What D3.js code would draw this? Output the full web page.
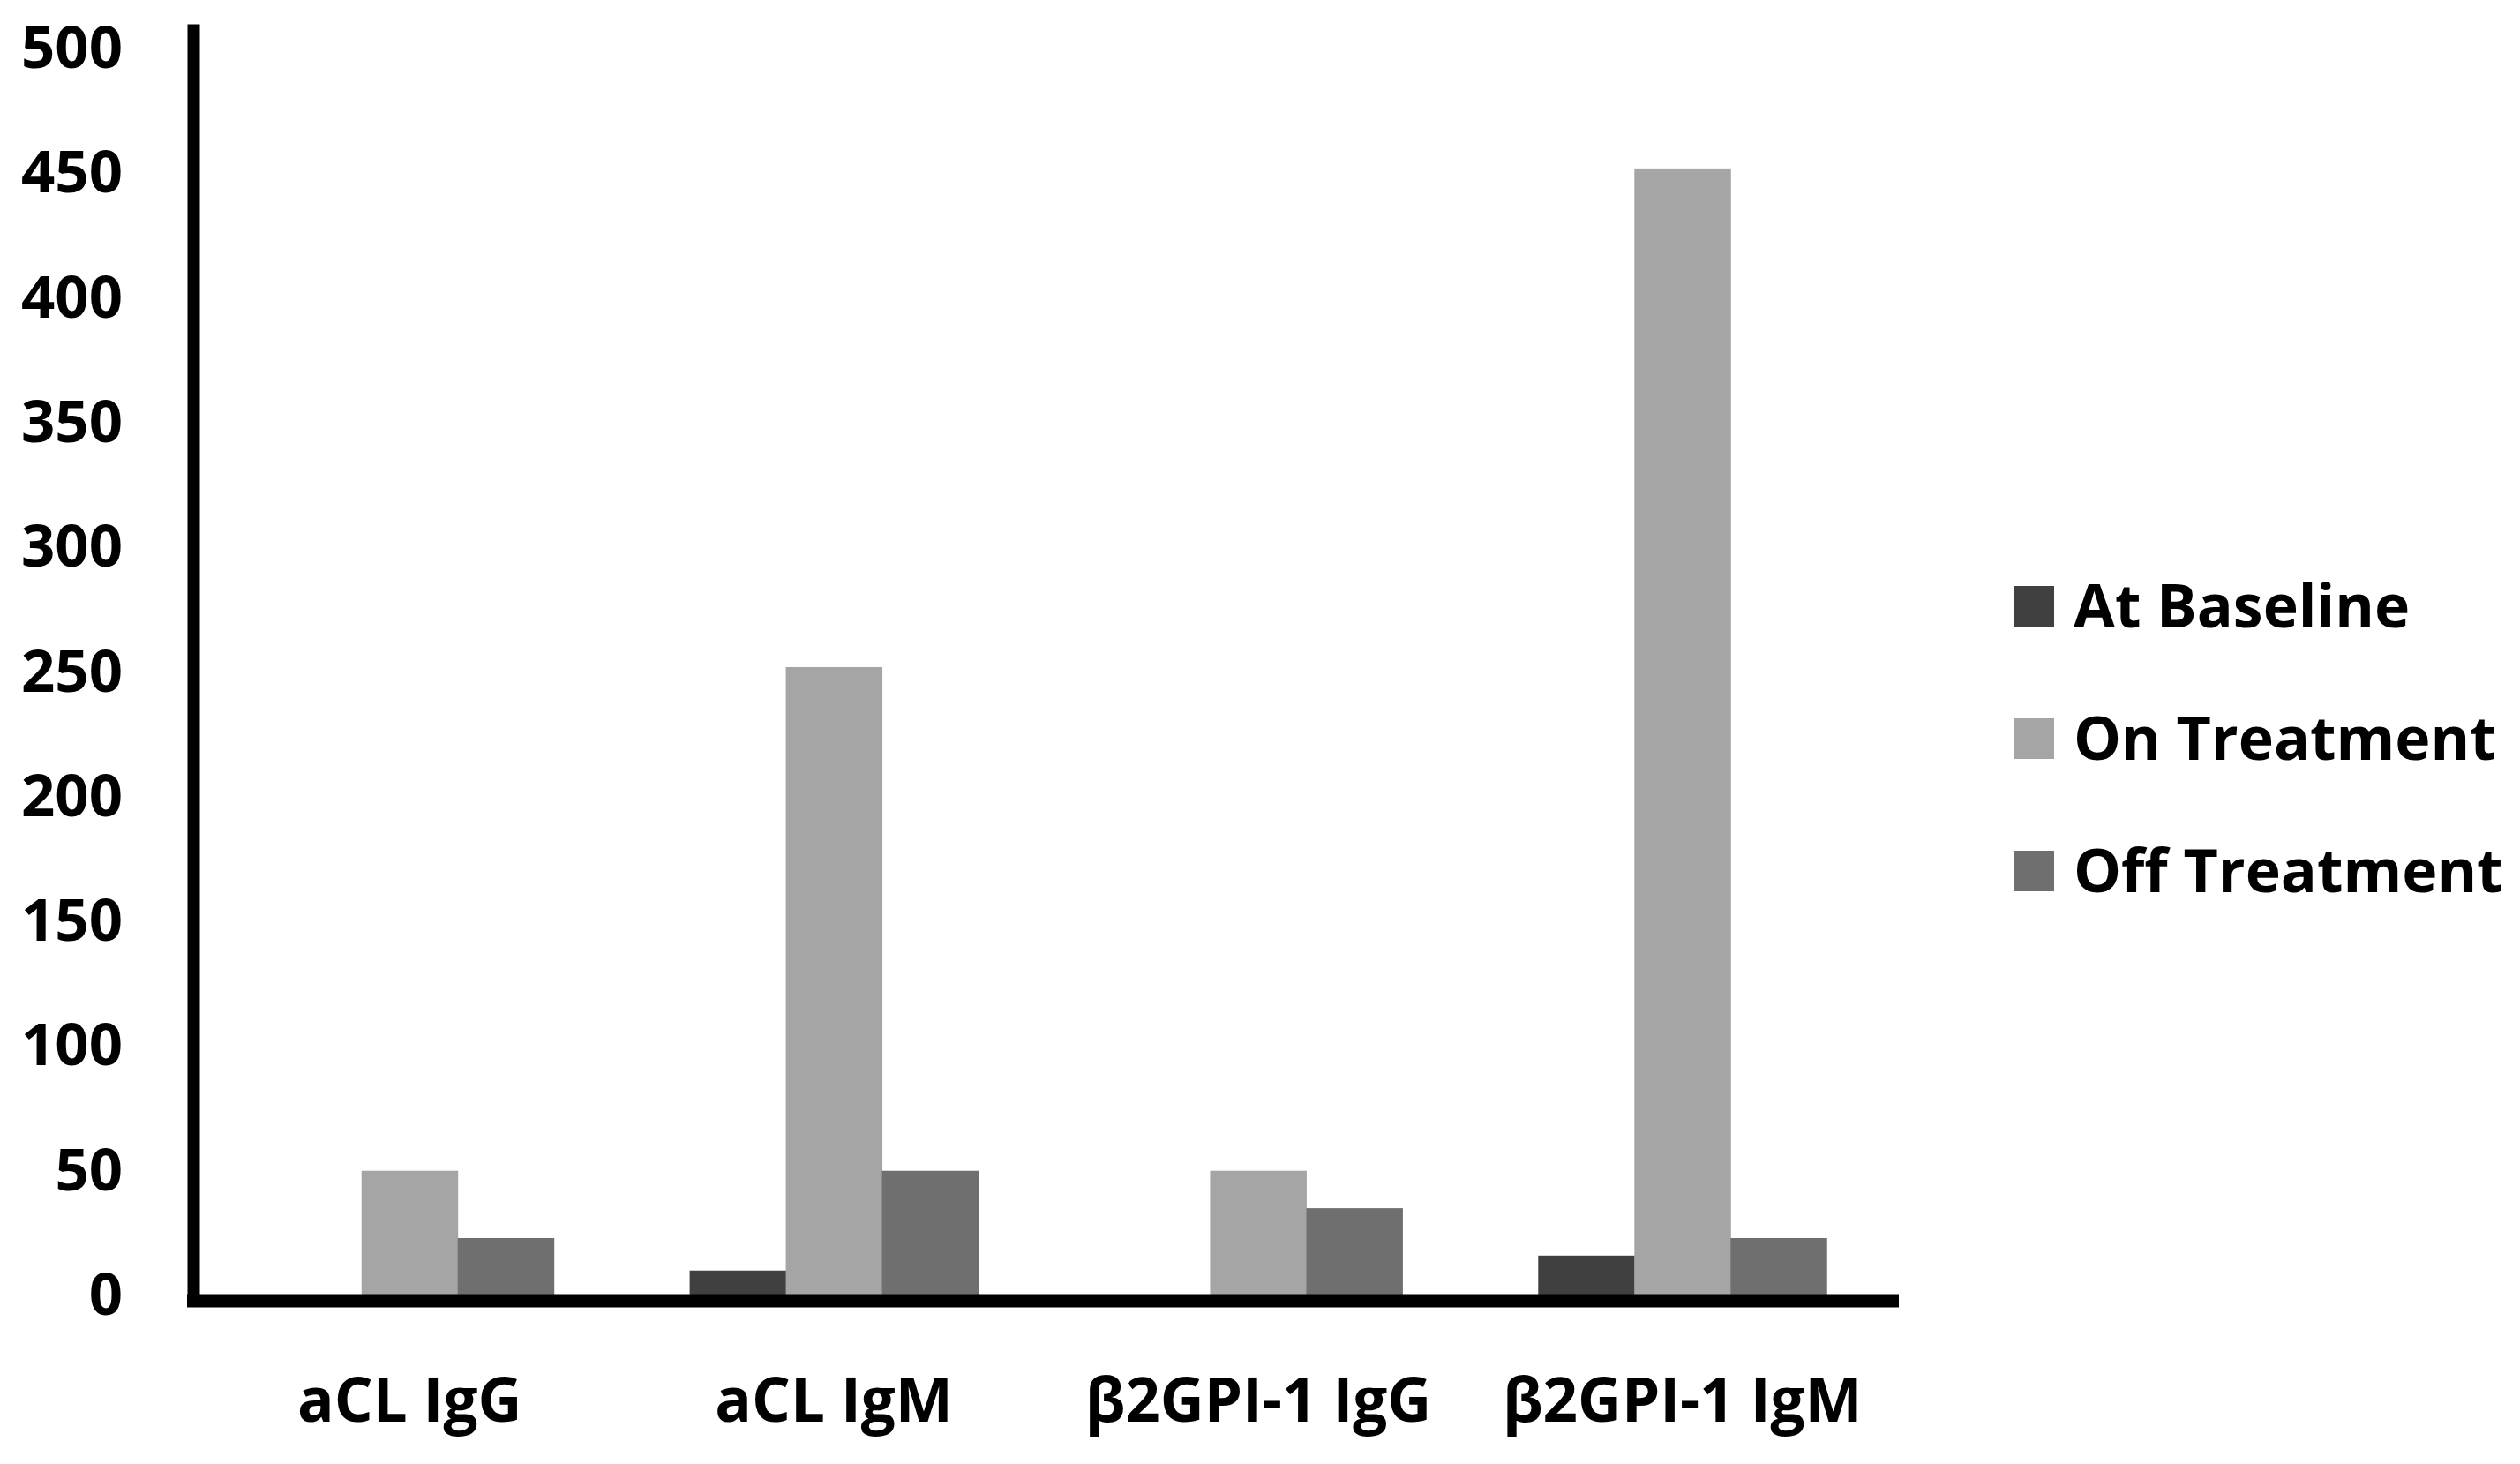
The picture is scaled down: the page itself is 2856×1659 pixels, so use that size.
<!DOCTYPE html>
<html>
<head>
<meta charset="utf-8">
<script src="https://cdn.jsdelivr.net/npm/d3@7"></script>
<style>
  html, body { margin: 0; padding: 0; background: #fff; }
  svg { display: block; font-family: "Open Sans", sans-serif; font-weight: 700; }
  .tick text { fill: #000; }
</style>
</head>
<body>
<svg id="chart"></svg>
<script>
const categories = ["aCL IgG", "aCL IgM", "β2GPI-1 IgG", "β2GPI-1 IgM"];
const seriesNames = ["At Baseline", "On Treatment", "Off Treatment"];
const seriesColors = ["#404040", "#a5a5a5", "#6f6f6f"];
const atBaseline = [0, 10, 0, 16];
const onTreatment = [50, 252, 50, 452];
const offTreatment = [23, 50, 35, 23];
const yTicks = [0, 50, 100, 150, 200, 250, 300, 350, 400, 450, 500];

const W = 2856, H = 1659;
const m = { top: 27, left: 219, right: 704, bottom: 191 };
const svg = d3.select("#chart").attr("width", W).attr("height", H);

const values = [atBaseline, onTreatment, offTreatment];
const data = categories.map((c, i) => ({ cat: c, vals: values.map((s) => s[i]) }));

const x0 = d3.scaleBand().domain(categories).range([m.left, W - m.right]).paddingInner(0.32).paddingOuter(0.17);
const x1 = d3.scaleBand().domain(seriesNames).range([0, x0.bandwidth()]);
const y = d3.scaleLinear().domain([0, 510]).range([H - m.bottom, m.top]);

// bars
svg.append("g").selectAll("g").data(data).join("g")
  .attr("transform", (d) => `translate(${x0(d.cat)},0)`)
  .selectAll("rect").data((d) => d.vals.map((v, i) => ({ v, s: seriesNames[i], c: seriesColors[i] })))
  .join("rect")
  .attr("x", (d) => x1(d.s))
  .attr("width", x1.bandwidth() + 0.5)
  .attr("y", (d) => y(d.v))
  .attr("height", (d) => y(0) - y(d.v))
  .attr("fill", (d) => d.c);

// y axis
const yAxis = svg.append("g").attr("transform", `translate(${m.left},0)`)
  .call(d3.axisLeft(y).tickValues(yTicks).tickSize(0).tickPadding(80));
yAxis.select(".domain").attr("stroke", "#000").attr("stroke-width", 14);
yAxis.selectAll(".tick text").attr("font-size", 67).attr("font-family", "Open Sans").attr("font-weight", 700);

// x axis
const xAxis = svg.append("g").attr("transform", `translate(0,${y(0) + 6})`)
  .call(d3.axisBottom(x0).tickSize(0).tickPadding(88));
xAxis.select(".domain").attr("stroke", "#000").attr("stroke-width", 15)
  .attr("d", `M${m.left - 7},0H${W - m.right}`);
xAxis.selectAll(".tick text").attr("font-size", 69).attr("font-family", "Open Sans").attr("font-weight", 700);

// legend
const legend = svg.append("g").attr("transform", "translate(2282,664)");
seriesNames.forEach((s, i) => {
  const g = legend.append("g").attr("transform", `translate(0,${i * 150})`);
  g.append("rect").attr("width", 46).attr("height", 46).attr("fill", seriesColors[i]);
  g.append("text").attr("x", 68).attr("y", 47).attr("font-size", 68).attr("fill", "#000").text(s);
});
</script>
</body>
</html>
